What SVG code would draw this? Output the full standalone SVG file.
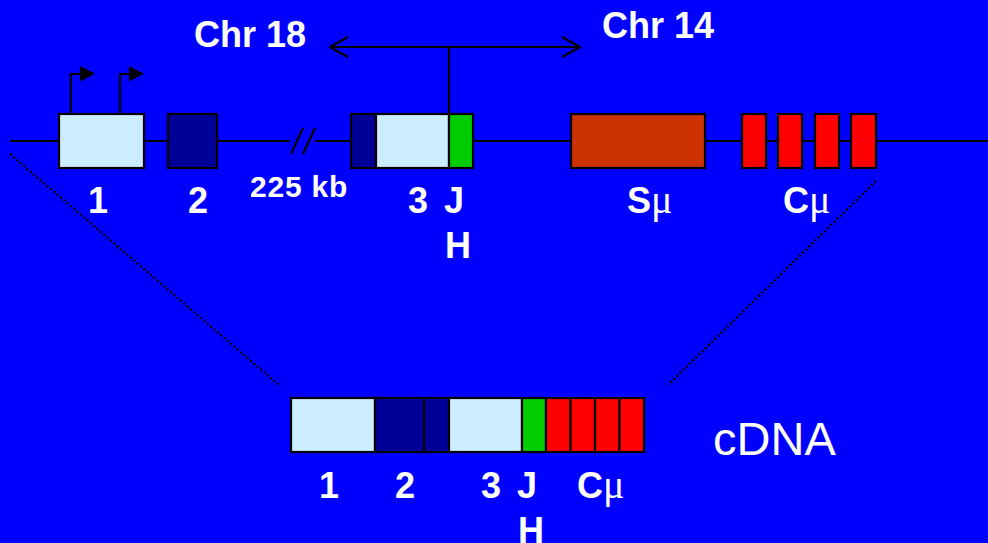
<svg xmlns="http://www.w3.org/2000/svg" width="988" height="543" viewBox="0 0 988 543">
<defs>
<style>
.bg{fill:#0000FF}
.ln{stroke:#000;stroke-width:2.2;fill:none}
.dot{stroke:#000;stroke-width:2.4;fill:none;stroke-dasharray:2 2.4}
.box{stroke:#000;stroke-width:2.2}
.lb{fill:#CCECFF}
.db{fill:#000099}
.gr{fill:#00CC00}
.sm{fill:#CC3300}
.rd{fill:#FF0000}
.t{fill:#fff;font-family:"Liberation Sans",Arial,sans-serif;font-weight:bold;font-size:36px}
.ts{fill:#fff;font-family:"Liberation Sans",Arial,sans-serif;font-weight:bold;font-size:30px}
.mu{font-family:"Liberation Serif","Times New Roman",serif;font-weight:normal;font-size:40px}
.tc{fill:#fff;font-family:"Liberation Sans",Arial,sans-serif;font-size:47px}
</style>
<marker id="chev" viewBox="0 0 20 22" refX="19" refY="11" markerWidth="20" markerHeight="22" markerUnits="userSpaceOnUse" orient="auto-start-reverse">
<path d="M1,1 L19,11 L1,21" fill="none" stroke="#000" stroke-width="2.2"/>
</marker>
</defs>
<rect class="bg" x="0" y="0" width="988" height="543"/>

<g id="connectors">
<line class="ln" x1="10" y1="141" x2="290" y2="141"/>
<line class="ln" x1="315" y1="141" x2="988" y2="141"/>
<line class="ln" x1="291" y1="154" x2="303" y2="128"/>
<line class="ln" x1="303" y1="154" x2="315" y2="128"/>
<line class="ln" x1="330" y1="47" x2="580" y2="47" marker-start="url(#chev)" marker-end="url(#chev)"/>
<line class="ln" x1="449" y1="47" x2="449" y2="114"/>
<polyline class="ln" points="70.7,114 70.7,74 81,74"/>
<polygon points="80,66 80,81.5 95,73.8" fill="#000"/>
<polyline class="ln" points="120,114 120,74 130,74"/>
<polygon points="129,66 129,81.5 144,73.8" fill="#000"/>
<line class="dot" x1="10" y1="154" x2="279" y2="385"/>
<line class="dot" x1="876" y1="181" x2="668" y2="385"/>
</g>

<g id="exon1"><rect class="box lb" x="59" y="114" width="85" height="54"/><text class="t" x="98" y="213" text-anchor="middle">1</text></g>
<g id="exon2"><rect class="box db" x="168" y="114" width="49" height="54"/><text class="t" x="198" y="213" text-anchor="middle">2</text></g>
<g id="break-label"><text class="ts" x="250" y="197" letter-spacing="0.8">225 kb</text></g>
<g id="exon3">
<rect class="box db" x="351" y="114" width="25" height="54"/>
<rect class="box lb" x="376" y="114" width="73" height="54"/>
<text class="t" x="418" y="213" text-anchor="middle">3</text>
</g>
<g id="JH"><rect class="box gr" x="449" y="114" width="24" height="54"/><text class="t" x="444" y="213">J</text><text class="t" x="445" y="258">H</text></g>
<g id="Smu"><rect class="box sm" x="571" y="114" width="134" height="54"/><text class="t" x="627" y="213">S<tspan class="mu">μ</tspan></text></g>
<g id="Cmu">
<rect class="box rd" x="742" y="114" width="24" height="54"/>
<rect class="box rd" x="778" y="114" width="24" height="54"/>
<rect class="box rd" x="815" y="114" width="24" height="54"/>
<rect class="box rd" x="851" y="114" width="25" height="54"/>
<text class="t" x="783" y="213">C<tspan class="mu">μ</tspan></text>
</g>
<g id="chr18"><text class="t" x="194" y="47">Chr 18</text></g>
<g id="chr14"><text class="t" x="602" y="38">Chr 14</text></g>

<g id="cdna">
<rect class="box lb" x="291" y="398" width="84" height="54"/>
<rect class="box db" x="375" y="398" width="49" height="54"/>
<rect class="box db" x="424" y="398" width="25" height="54"/>
<rect class="box lb" x="449" y="398" width="73" height="54"/>
<rect class="box gr" x="522" y="398" width="24" height="54"/>
<rect class="box rd" x="546" y="398" width="24.5" height="54"/>
<rect class="box rd" x="570.5" y="398" width="24.5" height="54"/>
<rect class="box rd" x="595" y="398" width="24.5" height="54"/>
<rect class="box rd" x="619.5" y="398" width="24.5" height="54"/>
<text class="t" x="329" y="498" text-anchor="middle">1</text>
<text class="t" x="405" y="498" text-anchor="middle">2</text>
<text class="t" x="491" y="498" text-anchor="middle">3</text>
<text class="t" x="517" y="498">J</text>
<text class="t" x="518" y="543">H</text>
<text class="t" x="577" y="498">C<tspan class="mu">μ</tspan></text>
<text class="tc" x="713" y="455">cDNA</text>
</g>
</svg>
